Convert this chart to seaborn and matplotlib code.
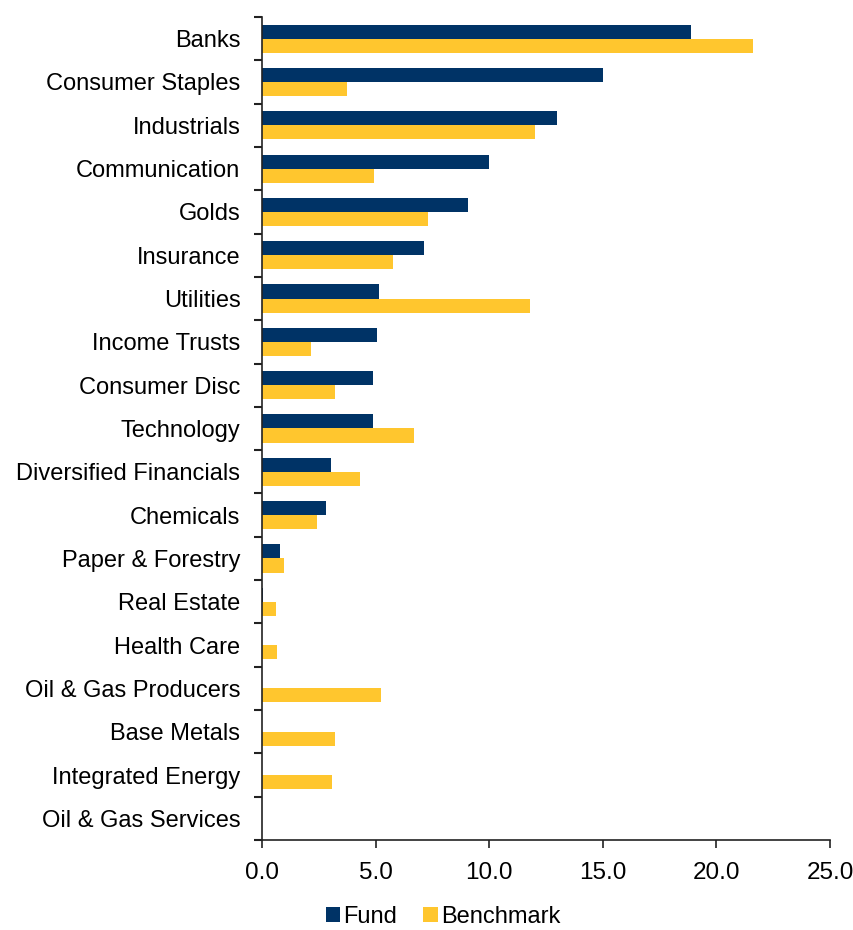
import numpy as np
import pandas as pd
import matplotlib.pyplot as plt
import seaborn as sns

sectors = ["Banks", "Consumer Staples", "Industrials", "Communication", "Golds",
           "Insurance", "Utilities", "Income Trusts", "Consumer Disc", "Technology",
           "Diversified Financials", "Chemicals", "Paper & Forestry", "Real Estate",
           "Health Care", "Oil & Gas Producers", "Base Metals", "Integrated Energy",
           "Oil & Gas Services"]
fund = [18.9, 15.0, 13.0, 10.0, 9.05, 7.15, 5.15, 5.05, 4.9, 4.9,
        3.05, 2.8, 0.8, 0.05, 0.02, 0.0, 0.0, 0.0, 0.0]
benchmark = [21.6, 3.75, 12.0, 4.95, 7.3, 5.75, 11.8, 2.15, 3.2, 6.7,
             4.3, 2.4, 0.95, 0.62, 0.66, 5.25, 3.2, 3.1, 0.02]
xticks = [0, 5, 10, 15, 20, 25]

df = pd.DataFrame({
    "Sector": sectors * 2,
    "Weight": fund + benchmark,
    "Series": ["Fund"] * len(sectors) + ["Benchmark"] * len(sectors),
})

sns.set_style("white")
plt.rcParams["font.family"] = ["Liberation Sans", "DejaVu Sans"]
plt.rcParams["text.color"] = "black"
plt.rcParams["xtick.color"] = "black"
plt.rcParams["ytick.color"] = "black"

fig = plt.figure(figsize=(8.54, 9.30), dpi=100)
ax = fig.add_axes([0.3068, 0.0968, 0.9719 - 0.3068, 0.9817 - 0.0968])

sns.barplot(data=df, y="Sector", x="Weight", hue="Series", orient="h",
            palette={"Fund": "#003366", "Benchmark": "#FFC62E"},
            width=0.65, gap=0, saturation=1, linewidth=0, ax=ax)

ax.set_xlim(0, 25)
ax.set_xticks(xticks)
ax.set_xticklabels([f"{v:.1f}" for v in xticks], fontsize=17.5)
ax.set_ylim(len(sectors) - 0.5, -0.5)
ax.set_yticks(range(len(sectors)))
ax.set_yticklabels(sectors, fontsize=17)
ax.set_yticks(np.arange(-0.5, len(sectors), 1), minor=True)
ax.tick_params(axis="y", which="major", length=0, pad=15.5)
ax.tick_params(axis="y", which="minor", length=6, width=1.5, color="#222222", left=True)
ax.tick_params(axis="x", which="major", length=6, width=1.2, color="#222222",
               bottom=True, pad=10)
ax.set_xlabel("")
ax.set_ylabel("")

for side in ["top", "right"]:
    ax.spines[side].set_visible(False)
for side in ["left", "bottom"]:
    ax.spines[side].set_color("#222222")
    ax.spines[side].set_linewidth(1.2)

handles, labels = ax.get_legend_handles_labels()
ax.legend_.remove()
fig.legend(handles, labels, loc="center", bbox_to_anchor=(0.519, 0.014), ncol=2,
           frameon=False, fontsize=17, handlelength=0.6, handleheight=0.6,
           handletextpad=0.15, columnspacing=1.1, borderpad=0.1)

fig.savefig("out.png", dpi=100)
